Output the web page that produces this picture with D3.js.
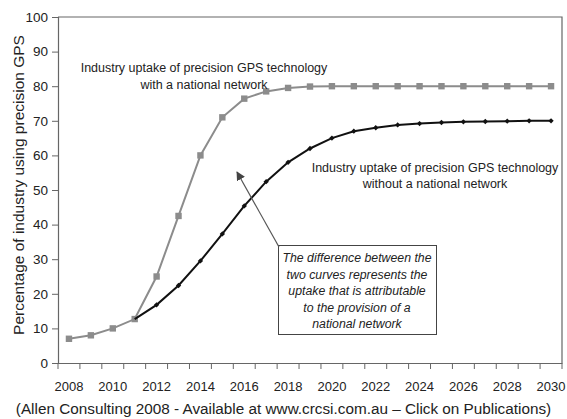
<!DOCTYPE html>
<html><head><meta charset="utf-8">
<script src="https://cdn.jsdelivr.net/npm/d3@7"></script>
<style>body{margin:0;background:#fff}svg{display:block}text{font-family:Arial,"Liberation Sans",sans-serif}</style>
</head><body>
<svg id="c" width="567" height="419"></svg>
<script>
const years = d3.range(2008, 2031);
const withNetwork = [7, 8, 10, 12.7, 25, 42.5, 60, 71, 76.4, 78.5, 79.5, 79.9, 80, 80, 80, 80, 80, 80, 80, 80, 80, 80, 80];
const withoutNetwork = [7, 8, 10, 12.7, 16.8, 22.4, 29.5, 37.3, 45.4, 52.4, 58, 62, 65, 67, 68, 68.8, 69.2, 69.5, 69.7, 69.8, 69.9, 70, 70];
const yTicks = d3.range(0, 101, 10);
const xLabels = d3.range(2008, 2031, 2);
const labelWith = ["Industry uptake of precision GPS technology", "with a national network"];
const labelWithout = ["Industry uptake of precision GPS technology", "without a national network"];
const boxText = ["The difference between the", "two curves represents the", "uptake that is attributable", "to the provision of a", "national network"];
const yTitle = "Percentage of industry using precision GPS";
const caption = "(Allen Consulting 2008 - Available at www.crcsi.com.au \u2013 Click on Publications)";

const svg = d3.select("#c");
const L = 58, R = 562, T = 17, B = 363;
const x = d3.scaleBand().domain(years).range([L, R]).padding(0);
const cx = d => x(d) + x.bandwidth() / 2;
const y = d3.scaleLinear().domain([0, 100]).range([B, T]);
const axisCol = "#666";
const txtCol = "#222";

// plot border (top & right)
svg.append("path").attr("d", `M${L},${T}H${R}V${B}`).attr("fill", "none").attr("stroke", axisCol).attr("stroke-width", 1.2);

// y axis
const ya = svg.append("g").attr("transform", `translate(${L},0)`)
  .call(d3.axisLeft(y).tickValues(yTicks).tickSize(6).tickPadding(4).tickFormat(d3.format("d")));
ya.select(".domain").attr("stroke", axisCol).attr("stroke-width", 1.2);
ya.selectAll(".tick line").attr("stroke", axisCol);
ya.selectAll(".tick text").attr("font-size", 13.5).attr("fill", txtCol).attr("font-family", "Arial, Liberation Sans, sans-serif");

// x axis
const xa = svg.append("g").attr("transform", `translate(0,${B})`)
  .call(d3.axisBottom(x).tickValues(xLabels).tickSize(0).tickPadding(19));
xa.select(".domain").attr("stroke", axisCol).attr("stroke-width", 1.2);
xa.selectAll(".tick text").attr("font-size", 13).attr("fill", txtCol).attr("font-family", "Arial, Liberation Sans, sans-serif");
const bounds = years.map(d => x(d)).concat([R]);
svg.append("g").selectAll("line").data(bounds).join("line")
  .attr("x1", d => d).attr("x2", d => d).attr("y1", B).attr("y2", B + 6)
  .attr("stroke", axisCol);

// lines
const line = d3.line().x((d, i) => cx(years[i])).y(d => y(d));
svg.append("path").datum(withNetwork).attr("d", line).attr("fill", "none").attr("stroke", "#8c8c8c").attr("stroke-width", 2);
svg.append("g").selectAll("rect").data(withNetwork).join("rect")
  .attr("x", (d, i) => cx(years[i]) - 3.2).attr("y", d => y(d) - 3.2)
  .attr("width", 6.4).attr("height", 6.4).attr("fill", "#8c8c8c");

svg.append("path").datum(withoutNetwork.slice(3)).attr("d", d3.line().x((d, i) => cx(years[i + 3])).y(d => y(d)))
  .attr("fill", "none").attr("stroke", "#111").attr("stroke-width", 2);
svg.append("g").selectAll("path").data(withoutNetwork.slice(4)).join("path")
  .attr("d", d3.symbol(d3.symbolDiamond2, 18))
  .attr("transform", (d, i) => `translate(${cx(years[i + 4])},${y(d)})`).attr("fill", "#111");

// labels
svg.append("text").attr("text-anchor", "middle").attr("font-size", 12.5).attr("fill", txtCol)
  .selectAll("tspan").data(labelWith).join("tspan").attr("x", 204).attr("y", (d, i) => 72 + i * 16.5).text(d => d);
svg.append("text").attr("text-anchor", "middle").attr("font-size", 12.5).attr("fill", txtCol)
  .selectAll("tspan").data(labelWithout).join("tspan").attr("x", 435).attr("y", (d, i) => 172 + i * 16).text(d => d);

// box
svg.append("rect").attr("x", 278.5).attr("y", 245.5).attr("width", 158).attr("height", 89)
  .attr("fill", "#fff").attr("stroke", "#444").attr("stroke-width", 1);
svg.append("text").attr("text-anchor", "middle").attr("font-size", 12.3).attr("font-style", "italic").attr("fill", txtCol)
  .selectAll("tspan").data(boxText).join("tspan").attr("x", 357).attr("y", (d, i) => 262 + i * 16.5).text(d => d);

// arrow
svg.append("defs").append("marker").attr("id", "ah").attr("viewBox", "0 0 10 10").attr("refX", 9).attr("refY", 5)
  .attr("markerWidth", 9).attr("markerHeight", 9).attr("markerUnits", "userSpaceOnUse").attr("orient", "auto")
  .append("path").attr("d", "M0,0L10,5L0,10z").attr("fill", "#444");
svg.append("line").attr("x1", 279).attr("y1", 247).attr("x2", 237).attr("y2", 172)
  .attr("stroke", "#555").attr("stroke-width", 1.2).attr("marker-end", "url(#ah)");

// y title
svg.append("text").attr("transform", "translate(24,185) rotate(-90)").attr("text-anchor", "middle")
  .attr("font-size", 15.5).attr("fill", txtCol).text(yTitle);

// caption
svg.append("text").attr("x", 283.5).attr("y", 414).attr("text-anchor", "middle").attr("font-size", 15.3).attr("fill", txtCol).text(caption);
</script>
</body></html>
